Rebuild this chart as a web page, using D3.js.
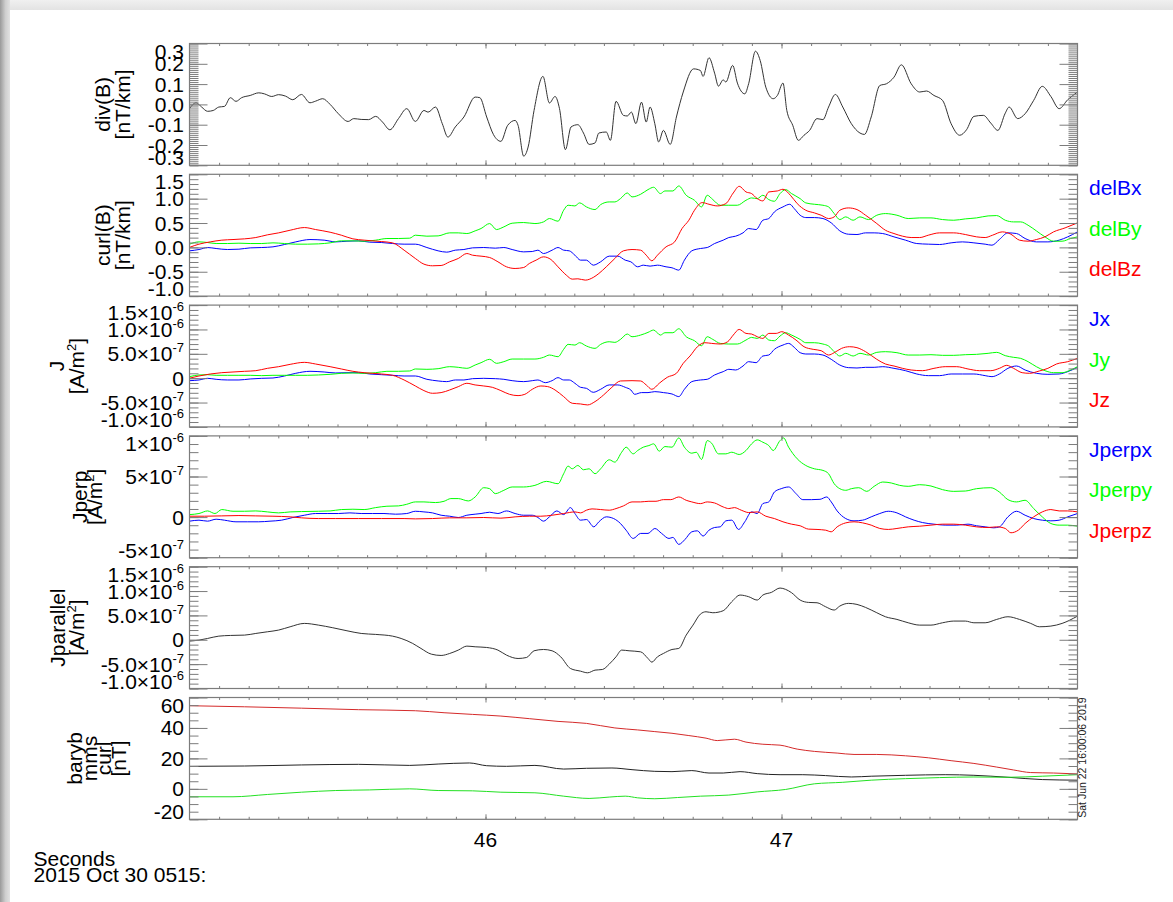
<!DOCTYPE html>
<html>
<head>
<meta charset="utf-8">
<script src="https://cdn.jsdelivr.net/npm/d3@7"></script>
<style>
html, body { margin:0; padding:0; width:1173px; height:902px; overflow:hidden; background:#ececec; }
#edgeL { position:absolute; left:0; top:0; width:10px; height:902px; background:linear-gradient(to right,#9a9a9a,#cfcfcf 55%,#e2e2e2); }
#edgeT { position:absolute; left:10px; top:0; width:1163px; height:10px; background:linear-gradient(to bottom,#f0f0f0,#e3e3e3); }
#card { position:absolute; left:10px; top:10px; width:1163px; height:892px; background:#fff; }
svg { position:absolute; left:0; top:0; }
text { font-family:"Liberation Sans", Arial, Helvetica, sans-serif; }
</style>
</head>
<body>
<div id="edgeL"></div><div id="edgeT"></div><div id="card"></div>
<script>
// ---- time series: [seconds after 05:15, value] ----
const divB = [[45.000,-0.021],[45.022,0.008],[45.041,-0.013],[45.061,-0.034],[45.080,-0.030],[45.099,-0.013],[45.118,-0.010],[45.138,0.033],[45.157,0.015],[45.176,0.033],[45.205,0.044],[45.234,0.057],[45.253,0.052],[45.278,0.039],[45.301,0.048],[45.324,0.041],[45.349,0.023],[45.378,0.049],[45.407,0.008],[45.426,0.016],[45.450,0.028],[45.475,0.000],[45.503,-0.046],[45.536,-0.084],[45.555,-0.070],[45.580,-0.074],[45.605,-0.075],[45.629,-0.059],[45.652,-0.087],[45.677,-0.125],[45.706,-0.070],[45.734,-0.021],[45.763,-0.084],[45.792,-0.030],[45.806,-0.038],[45.831,-0.013],[45.854,-0.095],[45.873,-0.161],[45.898,-0.111],[45.927,-0.062],[45.965,0.036],[45.981,0.033],[46.004,-0.062],[46.027,-0.149],[46.052,-0.182],[46.075,-0.103],[46.100,-0.079],[46.110,-0.103],[46.129,-0.255],[46.144,-0.210],[46.164,-0.030],[46.194,0.138],[46.216,0.007],[46.235,0.039],[46.250,-0.021],[46.270,-0.223],[46.289,-0.111],[46.312,-0.100],[46.331,-0.141],[46.350,-0.197],[46.370,-0.190],[46.383,-0.141],[46.408,-0.136],[46.422,-0.177],[46.441,0.015],[46.466,-0.054],[46.479,-0.057],[46.493,-0.038],[46.508,-0.095],[46.527,0.011],[46.543,-0.087],[46.556,-0.013],[46.572,-0.095],[46.585,-0.185],[46.601,-0.128],[46.624,-0.197],[46.645,-0.062],[46.668,0.061],[46.703,0.175],[46.726,0.167],[46.735,0.138],[46.755,0.230],[46.774,0.154],[46.787,0.090],[46.803,0.121],[46.812,0.110],[46.835,0.192],[46.851,0.105],[46.876,0.052],[46.889,0.102],[46.912,0.262],[46.928,0.216],[46.947,0.085],[46.972,0.028],[46.986,0.044],[47.005,0.105],[47.018,-0.030],[47.038,-0.103],[47.057,-0.177],[47.076,-0.152],[47.095,-0.128],[47.120,-0.070],[47.140,-0.075],[47.159,-0.013],[47.182,0.049],[47.207,-0.013],[47.236,-0.095],[47.265,-0.141],[47.280,-0.148],[47.303,-0.062],[47.332,0.093],[47.355,0.102],[47.380,0.134],[47.405,0.195],[47.438,0.102],[47.467,0.061],[47.490,0.066],[47.515,0.044],[47.544,0.020],[47.573,-0.095],[47.602,-0.152],[47.625,-0.125],[47.650,-0.059],[47.682,-0.054],[47.707,-0.092],[47.731,-0.128],[47.756,-0.043],[47.769,-0.013],[47.798,-0.070],[47.823,-0.046],[47.852,0.020],[47.881,0.089],[47.910,0.039],[47.938,-0.021],[47.967,0.023],[48.000,0.061]];

const delBx = [[45.000,-0.071],[45.032,-0.044],[45.061,-0.003],[45.090,-0.023],[45.128,-0.044],[45.167,-0.037],[45.205,-0.010],[45.244,-0.003],[45.282,0.011],[45.321,0.059],[45.359,0.113],[45.407,0.161],[45.455,0.148],[45.494,0.113],[45.532,0.127],[45.571,0.134],[45.609,0.107],[45.648,0.100],[45.686,0.079],[45.725,0.066],[45.763,0.066],[45.802,-0.003],[45.840,-0.071],[45.869,-0.098],[45.898,-0.057],[45.927,-0.044],[45.956,-0.010],[45.994,-0.003],[46.033,-0.016],[46.062,-0.003],[46.090,-0.044],[46.129,-0.092],[46.158,-0.085],[46.177,-0.057],[46.196,-0.126],[46.225,-0.057],[46.245,-0.003],[46.264,-0.057],[46.283,-0.071],[46.302,-0.160],[46.321,-0.262],[46.341,-0.262],[46.364,-0.365],[46.389,-0.296],[46.418,-0.180],[46.447,-0.180],[46.472,-0.262],[46.491,-0.296],[46.514,-0.399],[46.533,-0.365],[46.556,-0.385],[46.581,-0.365],[46.610,-0.399],[46.630,-0.419],[46.653,-0.467],[46.672,-0.262],[46.697,-0.071],[46.726,-0.023],[46.749,-0.003],[46.774,0.079],[46.803,0.148],[46.822,0.202],[46.845,0.230],[46.870,0.298],[46.889,0.387],[46.914,0.366],[46.937,0.557],[46.957,0.592],[46.976,0.728],[47.005,0.831],[47.028,0.885],[47.043,0.796],[47.063,0.660],[47.082,0.612],[47.111,0.612],[47.140,0.592],[47.168,0.503],[47.197,0.339],[47.226,0.270],[47.255,0.264],[47.284,0.298],[47.313,0.298],[47.342,0.284],[47.380,0.216],[47.419,0.148],[47.457,0.079],[47.496,0.066],[47.534,0.059],[47.573,0.093],[47.611,0.113],[47.650,0.093],[47.688,0.066],[47.711,0.045],[47.736,0.161],[47.765,0.298],[47.794,0.284],[47.823,0.182],[47.861,0.113],[47.900,0.113],[47.938,0.148],[47.967,0.216],[48.000,0.318]];

const delBy = [[45.000,0.066],[45.032,0.113],[45.061,0.100],[45.090,0.079],[45.128,0.079],[45.167,0.086],[45.205,0.079],[45.244,0.079],[45.282,0.093],[45.321,0.079],[45.359,0.066],[45.398,0.066],[45.436,0.072],[45.475,0.093],[45.513,0.134],[45.552,0.134],[45.590,0.127],[45.629,0.148],[45.667,0.182],[45.706,0.182],[45.744,0.189],[45.763,0.250],[45.802,0.230],[45.840,0.236],[45.879,0.298],[45.908,0.298],[45.937,0.284],[45.965,0.339],[45.985,0.387],[46.014,0.489],[46.037,0.366],[46.062,0.421],[46.090,0.496],[46.129,0.510],[46.167,0.489],[46.196,0.523],[46.216,0.592],[46.245,0.537],[46.264,0.762],[46.279,0.865],[46.302,0.851],[46.318,0.913],[46.341,0.831],[46.370,0.776],[46.389,0.878],[46.418,0.933],[46.437,0.933],[46.456,1.001],[46.479,1.117],[46.495,1.036],[46.524,1.090],[46.549,1.186],[46.568,1.234],[46.591,1.104],[46.606,1.158],[46.633,1.158],[46.653,1.261],[46.678,1.070],[46.706,0.967],[46.730,0.831],[46.749,1.070],[46.768,0.981],[46.793,0.865],[46.822,0.865],[46.851,0.865],[46.880,0.967],[46.899,1.015],[46.918,1.001],[46.937,1.070],[46.957,0.981],[46.976,0.947],[46.995,1.104],[47.014,1.186],[47.034,1.104],[47.063,1.001],[47.082,0.913],[47.111,0.885],[47.140,0.865],[47.159,0.831],[47.178,0.694],[47.197,0.571],[47.217,0.626],[47.242,0.557],[47.265,0.626],[47.294,0.571],[47.322,0.660],[47.351,0.694],[47.390,0.660],[47.428,0.592],[47.467,0.605],[47.505,0.605],[47.544,0.571],[47.582,0.557],[47.621,0.585],[47.659,0.605],[47.698,0.646],[47.727,0.653],[47.756,0.557],[47.784,0.523],[47.808,0.523],[47.833,0.455],[47.861,0.339],[47.890,0.216],[47.919,0.127],[47.948,0.127],[47.977,0.182],[48.000,0.216]];

const delBz = [[45.000,0.000],[45.032,0.066],[45.070,0.113],[45.109,0.148],[45.147,0.161],[45.186,0.175],[45.224,0.202],[45.263,0.257],[45.301,0.298],[45.340,0.352],[45.388,0.407],[45.426,0.366],[45.475,0.311],[45.513,0.250],[45.552,0.175],[45.590,0.148],[45.648,0.120],[45.686,0.093],[45.725,-0.057],[45.763,-0.228],[45.792,-0.344],[45.821,-0.378],[45.850,-0.372],[45.879,-0.296],[45.908,-0.228],[45.937,-0.126],[45.956,-0.160],[45.985,-0.180],[46.014,-0.208],[46.042,-0.296],[46.071,-0.399],[46.100,-0.433],[46.129,-0.413],[46.148,-0.331],[46.171,-0.262],[46.196,-0.194],[46.221,-0.249],[46.245,-0.399],[46.273,-0.570],[46.293,-0.652],[46.312,-0.645],[46.337,-0.672],[46.364,-0.617],[46.383,-0.536],[46.408,-0.399],[46.437,-0.228],[46.466,-0.071],[46.495,-0.044],[46.524,-0.057],[46.543,-0.160],[46.562,-0.276],[46.581,-0.160],[46.610,0.011],[46.639,0.113],[46.664,0.387],[46.687,0.557],[46.706,0.762],[46.732,0.919],[46.755,0.885],[46.783,0.851],[46.812,0.899],[46.837,1.117],[46.857,1.254],[46.880,1.138],[46.899,1.104],[46.918,1.001],[46.937,0.954],[46.957,1.138],[46.986,1.158],[47.005,1.193],[47.030,1.070],[47.053,0.899],[47.082,0.762],[47.111,0.708],[47.134,0.660],[47.159,0.592],[47.178,0.626],[47.197,0.762],[47.226,0.810],[47.255,0.776],[47.284,0.660],[47.322,0.489],[47.351,0.352],[47.380,0.284],[47.409,0.230],[47.438,0.202],[47.467,0.202],[47.496,0.250],[47.534,0.298],[47.582,0.298],[47.621,0.264],[47.659,0.216],[47.688,0.202],[47.713,0.250],[47.746,0.318],[47.775,0.270],[47.804,0.148],[47.833,0.127],[47.861,0.161],[47.890,0.216],[47.919,0.318],[47.958,0.400],[48.000,0.503]];

const jx = [[45.000,-0.051e-6],[45.032,-0.037e-6],[45.061,-0.003e-6],[45.090,-0.023e-6],[45.128,-0.037e-6],[45.167,-0.037e-6],[45.205,-0.016e-6],[45.244,-0.003e-6],[45.282,0.004e-6],[45.321,0.045e-6],[45.359,0.100e-6],[45.407,0.141e-6],[45.455,0.127e-6],[45.494,0.107e-6],[45.532,0.113e-6],[45.571,0.113e-6],[45.609,0.086e-6],[45.648,0.072e-6],[45.686,0.059e-6],[45.725,0.045e-6],[45.763,0.045e-6],[45.802,-0.023e-6],[45.840,-0.057e-6],[45.869,-0.071e-6],[45.898,-0.037e-6],[45.927,-0.037e-6],[45.956,-0.010e-6],[45.994,-0.003e-6],[46.033,-0.010e-6],[46.062,-0.023e-6],[46.090,-0.051e-6],[46.129,-0.071e-6],[46.158,-0.051e-6],[46.177,-0.037e-6],[46.202,-0.092e-6],[46.225,-0.051e-6],[46.245,0.011e-6],[46.264,-0.037e-6],[46.283,-0.037e-6],[46.302,-0.105e-6],[46.321,-0.187e-6],[46.341,-0.208e-6],[46.364,-0.290e-6],[46.389,-0.228e-6],[46.418,-0.139e-6],[46.447,-0.139e-6],[46.472,-0.187e-6],[46.491,-0.242e-6],[46.504,-0.331e-6],[46.527,-0.296e-6],[46.549,-0.296e-6],[46.572,-0.276e-6],[46.601,-0.296e-6],[46.630,-0.324e-6],[46.653,-0.378e-6],[46.672,-0.228e-6],[46.697,-0.071e-6],[46.726,-0.037e-6],[46.749,-0.023e-6],[46.774,0.066e-6],[46.803,0.134e-6],[46.822,0.182e-6],[46.845,0.168e-6],[46.870,0.250e-6],[46.889,0.339e-6],[46.914,0.318e-6],[46.937,0.455e-6],[46.957,0.475e-6],[46.976,0.592e-6],[47.005,0.680e-6],[47.024,0.714e-6],[47.043,0.633e-6],[47.063,0.523e-6],[47.082,0.496e-6],[47.111,0.496e-6],[47.140,0.475e-6],[47.168,0.387e-6],[47.197,0.270e-6],[47.226,0.216e-6],[47.255,0.209e-6],[47.284,0.223e-6],[47.313,0.223e-6],[47.342,0.236e-6],[47.380,0.202e-6],[47.419,0.154e-6],[47.457,0.086e-6],[47.496,0.052e-6],[47.534,0.052e-6],[47.573,0.086e-6],[47.611,0.086e-6],[47.650,0.086e-6],[47.688,0.052e-6],[47.711,0.031e-6],[47.736,0.086e-6],[47.765,0.202e-6],[47.794,0.250e-6],[47.823,0.168e-6],[47.861,0.100e-6],[47.900,0.079e-6],[47.938,0.086e-6],[47.967,0.134e-6],[48.000,0.223e-6]];

const jy = [[45.000,0.031e-6],[45.032,0.066e-6],[45.061,0.072e-6],[45.090,0.059e-6],[45.128,0.059e-6],[45.167,0.059e-6],[45.205,0.059e-6],[45.244,0.052e-6],[45.282,0.059e-6],[45.321,0.059e-6],[45.359,0.059e-6],[45.398,0.059e-6],[45.436,0.066e-6],[45.475,0.079e-6],[45.513,0.100e-6],[45.552,0.107e-6],[45.590,0.100e-6],[45.629,0.113e-6],[45.667,0.141e-6],[45.706,0.141e-6],[45.744,0.148e-6],[45.763,0.189e-6],[45.802,0.182e-6],[45.840,0.195e-6],[45.879,0.236e-6],[45.908,0.223e-6],[45.937,0.202e-6],[45.965,0.270e-6],[45.985,0.318e-6],[46.014,0.387e-6],[46.037,0.305e-6],[46.062,0.339e-6],[46.090,0.393e-6],[46.129,0.393e-6],[46.167,0.393e-6],[46.196,0.428e-6],[46.216,0.475e-6],[46.245,0.441e-6],[46.264,0.592e-6],[46.279,0.694e-6],[46.302,0.680e-6],[46.318,0.728e-6],[46.341,0.660e-6],[46.370,0.612e-6],[46.389,0.694e-6],[46.418,0.748e-6],[46.437,0.735e-6],[46.456,0.796e-6],[46.479,0.906e-6],[46.495,0.851e-6],[46.524,0.885e-6],[46.549,0.940e-6],[46.568,0.988e-6],[46.591,0.885e-6],[46.606,0.933e-6],[46.633,0.933e-6],[46.653,1.015e-6],[46.678,0.851e-6],[46.706,0.769e-6],[46.730,0.666e-6],[46.749,0.851e-6],[46.768,0.796e-6],[46.793,0.714e-6],[46.822,0.701e-6],[46.851,0.701e-6],[46.880,0.783e-6],[46.899,0.837e-6],[46.918,0.816e-6],[46.937,0.885e-6],[46.957,0.783e-6],[46.976,0.769e-6],[46.995,0.865e-6],[47.014,0.933e-6],[47.034,0.885e-6],[47.063,0.796e-6],[47.082,0.728e-6],[47.111,0.728e-6],[47.140,0.701e-6],[47.159,0.660e-6],[47.178,0.544e-6],[47.197,0.455e-6],[47.217,0.510e-6],[47.242,0.455e-6],[47.265,0.510e-6],[47.294,0.475e-6],[47.322,0.530e-6],[47.351,0.544e-6],[47.390,0.523e-6],[47.428,0.475e-6],[47.467,0.475e-6],[47.505,0.482e-6],[47.544,0.469e-6],[47.582,0.469e-6],[47.621,0.482e-6],[47.659,0.489e-6],[47.698,0.510e-6],[47.727,0.530e-6],[47.756,0.462e-6],[47.784,0.428e-6],[47.808,0.407e-6],[47.833,0.339e-6],[47.861,0.236e-6],[47.890,0.154e-6],[47.919,0.113e-6],[47.948,0.113e-6],[47.977,0.168e-6],[48.000,0.236e-6]];

const jz = [[45.000,0.000e-6],[45.032,0.045e-6],[45.070,0.086e-6],[45.109,0.113e-6],[45.147,0.127e-6],[45.186,0.141e-6],[45.224,0.154e-6],[45.263,0.202e-6],[45.301,0.236e-6],[45.340,0.284e-6],[45.388,0.325e-6],[45.426,0.291e-6],[45.475,0.236e-6],[45.513,0.189e-6],[45.552,0.141e-6],[45.590,0.113e-6],[45.648,0.086e-6],[45.686,0.059e-6],[45.725,-0.037e-6],[45.763,-0.160e-6],[45.792,-0.255e-6],[45.821,-0.310e-6],[45.850,-0.296e-6],[45.879,-0.242e-6],[45.908,-0.174e-6],[45.937,-0.105e-6],[45.965,-0.139e-6],[45.994,-0.160e-6],[46.023,-0.187e-6],[46.052,-0.255e-6],[46.081,-0.331e-6],[46.110,-0.358e-6],[46.133,-0.331e-6],[46.158,-0.228e-6],[46.187,-0.160e-6],[46.210,-0.173e-6],[46.235,-0.242e-6],[46.264,-0.378e-6],[46.293,-0.515e-6],[46.321,-0.529e-6],[46.345,-0.549e-6],[46.370,-0.481e-6],[46.399,-0.344e-6],[46.427,-0.187e-6],[46.456,-0.057e-6],[46.495,-0.051e-6],[46.524,-0.057e-6],[46.543,-0.139e-6],[46.562,-0.228e-6],[46.587,-0.105e-6],[46.614,0.018e-6],[46.645,0.100e-6],[46.668,0.305e-6],[46.691,0.455e-6],[46.716,0.646e-6],[46.741,0.728e-6],[46.764,0.714e-6],[46.793,0.701e-6],[46.818,0.748e-6],[46.837,0.885e-6],[46.857,1.001e-6],[46.880,0.919e-6],[46.899,0.906e-6],[46.918,0.851e-6],[46.937,0.816e-6],[46.957,0.919e-6],[46.982,0.919e-6],[47.001,0.954e-6],[47.024,0.885e-6],[47.049,0.783e-6],[47.076,0.646e-6],[47.107,0.592e-6],[47.134,0.564e-6],[47.159,0.475e-6],[47.178,0.523e-6],[47.203,0.612e-6],[47.230,0.646e-6],[47.255,0.626e-6],[47.284,0.544e-6],[47.322,0.387e-6],[47.351,0.291e-6],[47.380,0.250e-6],[47.409,0.202e-6],[47.438,0.168e-6],[47.476,0.154e-6],[47.515,0.202e-6],[47.553,0.236e-6],[47.592,0.236e-6],[47.630,0.189e-6],[47.669,0.154e-6],[47.707,0.154e-6],[47.736,0.202e-6],[47.761,0.264e-6],[47.784,0.202e-6],[47.813,0.113e-6],[47.838,0.100e-6],[47.871,0.148e-6],[47.900,0.202e-6],[47.929,0.291e-6],[47.967,0.339e-6],[48.000,0.407e-6]];

const jperpx = [[45.000,-0.050e-6],[45.032,-0.038e-6],[45.061,-0.050e-6],[45.090,-0.026e-6],[45.118,-0.038e-6],[45.157,-0.058e-6],[45.195,-0.058e-6],[45.234,-0.058e-6],[45.272,-0.050e-6],[45.311,-0.038e-6],[45.349,-0.005e-6],[45.388,0.023e-6],[45.426,0.044e-6],[45.465,0.044e-6],[45.503,0.044e-6],[45.542,0.052e-6],[45.580,0.044e-6],[45.619,0.044e-6],[45.657,0.044e-6],[45.696,0.036e-6],[45.734,0.044e-6],[45.763,0.072e-6],[45.792,0.064e-6],[45.821,0.052e-6],[45.850,0.023e-6],[45.879,0.011e-6],[45.908,-0.005e-6],[45.937,0.023e-6],[45.965,0.036e-6],[45.985,0.044e-6],[46.014,0.060e-6],[46.042,0.044e-6],[46.071,0.076e-6],[46.100,0.044e-6],[46.129,0.023e-6],[46.158,0.023e-6],[46.177,-0.005e-6],[46.196,-0.050e-6],[46.216,0.003e-6],[46.241,0.076e-6],[46.264,0.031e-6],[46.287,0.117e-6],[46.302,0.044e-6],[46.321,-0.038e-6],[46.341,-0.030e-6],[46.366,-0.120e-6],[46.383,-0.058e-6],[46.408,0.003e-6],[46.433,-0.018e-6],[46.456,-0.079e-6],[46.475,-0.161e-6],[46.499,-0.263e-6],[46.524,-0.201e-6],[46.549,-0.201e-6],[46.572,-0.140e-6],[46.595,-0.201e-6],[46.620,-0.263e-6],[46.633,-0.250e-6],[46.653,-0.336e-6],[46.674,-0.275e-6],[46.697,-0.181e-6],[46.716,-0.169e-6],[46.735,-0.234e-6],[46.755,-0.161e-6],[46.774,-0.128e-6],[46.793,-0.120e-6],[46.812,-0.046e-6],[46.832,-0.038e-6],[46.855,-0.152e-6],[46.876,-0.058e-6],[46.899,0.064e-6],[46.918,0.044e-6],[46.937,0.166e-6],[46.957,0.187e-6],[46.976,0.309e-6],[46.999,0.350e-6],[47.024,0.371e-6],[47.049,0.289e-6],[47.072,0.215e-6],[47.101,0.215e-6],[47.130,0.219e-6],[47.153,0.248e-6],[47.168,0.187e-6],[47.188,0.076e-6],[47.217,-0.018e-6],[47.245,-0.046e-6],[47.274,-0.038e-6],[47.303,0.003e-6],[47.332,0.044e-6],[47.361,0.072e-6],[47.390,0.052e-6],[47.419,0.003e-6],[47.448,-0.038e-6],[47.476,-0.067e-6],[47.515,-0.087e-6],[47.553,-0.099e-6],[47.592,-0.099e-6],[47.630,-0.087e-6],[47.659,-0.107e-6],[47.688,-0.120e-6],[47.717,-0.132e-6],[47.736,-0.120e-6],[47.765,0.003e-6],[47.794,0.072e-6],[47.823,0.023e-6],[47.852,-0.018e-6],[47.881,-0.038e-6],[47.910,-0.046e-6],[47.938,-0.038e-6],[47.967,0.003e-6],[48.000,0.044e-6]];

const jperpy = [[45.000,0.031e-6],[45.032,0.044e-6],[45.061,0.076e-6],[45.086,0.044e-6],[45.109,0.093e-6],[45.147,0.072e-6],[45.186,0.072e-6],[45.224,0.076e-6],[45.263,0.064e-6],[45.301,0.052e-6],[45.340,0.064e-6],[45.378,0.068e-6],[45.436,0.072e-6],[45.475,0.076e-6],[45.513,0.093e-6],[45.552,0.097e-6],[45.590,0.093e-6],[45.629,0.117e-6],[45.667,0.134e-6],[45.706,0.138e-6],[45.734,0.158e-6],[45.763,0.187e-6],[45.792,0.187e-6],[45.831,0.179e-6],[45.860,0.195e-6],[45.883,0.228e-6],[45.908,0.228e-6],[45.942,0.199e-6],[45.965,0.248e-6],[45.994,0.362e-6],[46.014,0.350e-6],[46.033,0.289e-6],[46.062,0.330e-6],[46.090,0.371e-6],[46.129,0.371e-6],[46.167,0.391e-6],[46.206,0.440e-6],[46.245,0.411e-6],[46.264,0.534e-6],[46.279,0.628e-6],[46.293,0.595e-6],[46.312,0.636e-6],[46.331,0.583e-6],[46.350,0.595e-6],[46.370,0.534e-6],[46.389,0.595e-6],[46.418,0.706e-6],[46.437,0.677e-6],[46.460,0.799e-6],[46.475,0.861e-6],[46.499,0.779e-6],[46.514,0.820e-6],[46.533,0.861e-6],[46.552,0.881e-6],[46.568,0.902e-6],[46.587,0.812e-6],[46.606,0.869e-6],[46.630,0.861e-6],[46.653,0.975e-6],[46.672,0.861e-6],[46.697,0.787e-6],[46.712,0.799e-6],[46.730,0.710e-6],[46.749,0.942e-6],[46.764,0.910e-6],[46.787,0.779e-6],[46.812,0.779e-6],[46.832,0.799e-6],[46.857,0.771e-6],[46.880,0.820e-6],[46.899,0.902e-6],[46.918,0.951e-6],[46.937,0.922e-6],[46.957,0.881e-6],[46.972,0.820e-6],[46.995,0.942e-6],[47.007,0.975e-6],[47.024,0.861e-6],[47.053,0.718e-6],[47.082,0.636e-6],[47.111,0.595e-6],[47.140,0.575e-6],[47.159,0.534e-6],[47.178,0.411e-6],[47.197,0.350e-6],[47.217,0.330e-6],[47.236,0.350e-6],[47.261,0.362e-6],[47.288,0.317e-6],[47.313,0.379e-6],[47.342,0.432e-6],[47.371,0.420e-6],[47.399,0.391e-6],[47.428,0.379e-6],[47.467,0.399e-6],[47.505,0.383e-6],[47.544,0.338e-6],[47.582,0.317e-6],[47.621,0.321e-6],[47.659,0.350e-6],[47.707,0.362e-6],[47.736,0.309e-6],[47.765,0.215e-6],[47.794,0.187e-6],[47.823,0.207e-6],[47.852,0.105e-6],[47.881,0.003e-6],[47.910,-0.079e-6],[47.938,-0.099e-6],[47.967,-0.099e-6],[48.000,-0.112e-6]];

const jperpz = [[45.000,0.011e-6],[45.051,0.011e-6],[45.109,0.015e-6],[45.167,0.019e-6],[45.224,0.015e-6],[45.282,0.011e-6],[45.340,0.003e-6],[45.378,-0.009e-6],[45.436,-0.018e-6],[45.494,-0.018e-6],[45.571,-0.018e-6],[45.648,-0.018e-6],[45.725,-0.018e-6],[45.763,-0.022e-6],[45.821,-0.018e-6],[45.879,-0.009e-6],[45.937,-0.009e-6],[45.994,-0.005e-6],[46.052,-0.013e-6],[46.100,0.003e-6],[46.148,0.011e-6],[46.187,0.011e-6],[46.225,0.023e-6],[46.264,0.044e-6],[46.302,0.064e-6],[46.321,0.052e-6],[46.341,0.085e-6],[46.360,0.101e-6],[46.389,0.093e-6],[46.418,0.085e-6],[46.441,0.105e-6],[46.466,0.138e-6],[46.495,0.187e-6],[46.524,0.187e-6],[46.552,0.195e-6],[46.576,0.195e-6],[46.601,0.215e-6],[46.626,0.215e-6],[46.653,0.248e-6],[46.678,0.207e-6],[46.697,0.187e-6],[46.726,0.166e-6],[46.749,0.187e-6],[46.774,0.174e-6],[46.803,0.125e-6],[46.822,0.105e-6],[46.841,0.117e-6],[46.864,0.085e-6],[46.889,0.056e-6],[46.918,0.064e-6],[46.947,0.011e-6],[46.976,-0.018e-6],[47.005,-0.058e-6],[47.034,-0.087e-6],[47.063,-0.107e-6],[47.091,-0.148e-6],[47.120,-0.152e-6],[47.149,-0.161e-6],[47.168,-0.181e-6],[47.188,-0.120e-6],[47.217,-0.071e-6],[47.245,-0.058e-6],[47.274,-0.071e-6],[47.303,-0.099e-6],[47.332,-0.140e-6],[47.361,-0.152e-6],[47.390,-0.140e-6],[47.428,-0.120e-6],[47.467,-0.112e-6],[47.505,-0.099e-6],[47.544,-0.087e-6],[47.582,-0.087e-6],[47.621,-0.099e-6],[47.659,-0.120e-6],[47.698,-0.128e-6],[47.727,-0.120e-6],[47.756,-0.140e-6],[47.775,-0.193e-6],[47.800,-0.161e-6],[47.823,-0.079e-6],[47.852,0.003e-6],[47.881,0.064e-6],[47.910,0.093e-6],[47.938,0.076e-6],[47.967,0.076e-6],[48.000,0.064e-6]];

const jpar = [[45.000,-0.027e-6],[45.032,-0.007e-6],[45.061,0.027e-6],[45.099,0.075e-6],[45.138,0.089e-6],[45.186,0.096e-6],[45.224,0.130e-6],[45.263,0.164e-6],[45.301,0.199e-6],[45.340,0.267e-6],[45.388,0.336e-6],[45.436,0.301e-6],[45.484,0.247e-6],[45.532,0.185e-6],[45.580,0.130e-6],[45.629,0.110e-6],[45.686,0.075e-6],[45.715,0.027e-6],[45.754,-0.075e-6],[45.782,-0.178e-6],[45.817,-0.295e-6],[45.850,-0.322e-6],[45.879,-0.281e-6],[45.908,-0.212e-6],[45.937,-0.130e-6],[45.965,-0.144e-6],[46.004,-0.158e-6],[46.042,-0.212e-6],[46.071,-0.315e-6],[46.110,-0.384e-6],[46.139,-0.363e-6],[46.164,-0.226e-6],[46.196,-0.199e-6],[46.225,-0.226e-6],[46.254,-0.349e-6],[46.287,-0.589e-6],[46.321,-0.644e-6],[46.345,-0.678e-6],[46.370,-0.623e-6],[46.395,-0.610e-6],[46.418,-0.500e-6],[46.441,-0.349e-6],[46.460,-0.212e-6],[46.485,-0.226e-6],[46.524,-0.247e-6],[46.549,-0.384e-6],[46.562,-0.459e-6],[46.581,-0.349e-6],[46.601,-0.281e-6],[46.630,-0.199e-6],[46.653,-0.178e-6],[46.678,0.096e-6],[46.701,0.301e-6],[46.726,0.527e-6],[46.745,0.575e-6],[46.768,0.555e-6],[46.803,0.596e-6],[46.832,0.781e-6],[46.860,0.918e-6],[46.889,0.884e-6],[46.918,0.815e-6],[46.937,0.918e-6],[46.966,0.973e-6],[46.995,1.062e-6],[47.014,1.034e-6],[47.034,0.966e-6],[47.063,0.815e-6],[47.091,0.767e-6],[47.120,0.760e-6],[47.149,0.678e-6],[47.178,0.610e-6],[47.197,0.692e-6],[47.226,0.747e-6],[47.255,0.726e-6],[47.284,0.664e-6],[47.322,0.555e-6],[47.351,0.473e-6],[47.390,0.418e-6],[47.428,0.349e-6],[47.467,0.301e-6],[47.505,0.301e-6],[47.544,0.349e-6],[47.582,0.384e-6],[47.621,0.384e-6],[47.650,0.349e-6],[47.688,0.349e-6],[47.727,0.418e-6],[47.765,0.473e-6],[47.804,0.418e-6],[47.842,0.336e-6],[47.871,0.267e-6],[47.910,0.281e-6],[47.948,0.336e-6],[48.000,0.486e-6]];

const curlRed = [[45.000,54.6],[45.186,53.9],[45.378,53.0],[45.571,52.0],[45.763,51.3],[45.860,50.0],[45.956,48.9],[46.052,47.8],[46.148,46.1],[46.245,44.3],[46.341,43.0],[46.437,40.0],[46.514,38.7],[46.572,37.6],[46.630,36.5],[46.687,35.0],[46.745,33.3],[46.783,31.7],[46.841,32.6],[46.880,30.7],[46.937,29.3],[46.995,28.7],[47.053,26.1],[47.111,24.6],[47.188,23.5],[47.245,22.6],[47.322,22.6],[47.419,21.7],[47.496,20.4],[47.573,18.5],[47.650,16.7],[47.727,14.3],[47.784,12.4],[47.842,10.7],[47.919,10.4],[48.000,9.8]];
const curlBlack = [[45.000,14.8],[45.186,15.0],[45.378,15.7],[45.571,16.1],[45.744,15.4],[45.840,16.3],[45.946,17.0],[46.004,15.2],[46.071,14.8],[46.167,15.4],[46.264,13.0],[46.341,13.5],[46.427,13.7],[46.495,12.6],[46.572,11.5],[46.630,11.3],[46.697,12.0],[46.755,10.4],[46.803,10.4],[46.860,11.3],[46.918,10.0],[46.995,9.3],[47.072,9.3],[47.149,8.7],[47.236,7.8],[47.303,8.3],[47.419,8.9],[47.553,9.3],[47.650,8.9],[47.765,7.6],[47.881,6.1],[48.000,5.7]];
const curlGreen = [[45.000,-5.2],[45.147,-5.2],[45.263,-3.7],[45.378,-2.2],[45.494,-1.1],[45.609,-0.7],[45.744,0.0],[45.840,-1.1],[45.956,-1.3],[46.052,-2.2],[46.167,-2.6],[46.264,-4.8],[46.350,-6.3],[46.418,-5.4],[46.472,-4.8],[46.514,-5.9],[46.572,-6.5],[46.649,-5.7],[46.726,-4.8],[46.822,-4.1],[46.918,-2.0],[47.014,-0.4],[47.111,3.3],[47.207,4.3],[47.303,5.7],[47.419,6.7],[47.534,7.4],[47.650,7.8],[47.765,7.6],[47.881,8.3],[48.000,9.3]];

// ---- axis tick labels ----
const divTickVals = [-0.3,-0.2,-0.1,0,0.1,0.2,0.3];
const divTickText = ["-0.3","-0.2","-0.1","0.0","0.1","0.2","0.3"];
const curlTickVals = [-1.0,-0.5,0,0.5,1.0,1.5];
const curlTickText = ["-1.0","-0.5","0.0","0.5","1.0","1.5"];
const jTickVals = [-1.0e-6,-0.5e-6,0,0.5e-6,1.0e-6,1.5e-6];
const jTickText = [["-1.0×10","-6"],["-5.0×10","-7"],["0",""],["5.0×10","-7"],["1.0×10","-6"],["1.5×10","-6"]];
const jperpTickVals = [-5e-7,0,5e-7,1e-6];
const jperpTickText = [["-5×10","-7"],["0",""],["5×10","-7"],["1×10","-6"]];
const nTTickVals = [-20,0,20,40,60];
const nTTickText = ["-20","0","20","40","60"];
const timeTickVals = [46,47];
const timeTickText = ["46","47"];

const curlNames = ["delBx","delBy","delBz"];
const jNames = ["Jx","Jy","Jz"];
const jperpNames = ["Jperpx","Jperpy","Jperpz"];
const rgb = ["#0000ff","#00ff00","#ff0000"];

// ---- layout ----
const W = 1173, H = 902;
const X0 = 189.5, X1 = 1077.5;
const TOP0 = 43.5, PH = 121.8, PITCH = 130.8;
const FONT = 21;

const x = d3.scaleLinear().domain([45, 48]).range([X0, X1]);

const panels = [
  { title:["div(B)","[nT/km]"], titleX:[110,130], domain:[-0.3,0.3],
    major:divTickVals, minor:d3.range(-30,31).map(i=>i/100),
    labels:divTickVals.map((v,i)=>({v, m:divTickText[i], e:""})),
    series:[{data:divB, color:"#333"}], legend:[] },
  { title:["curl(B)","[nT/km]"], titleX:[110,130], domain:[-1.0,1.5],
    major:curlTickVals, minor:d3.range(-10,16).map(i=>i/10),
    labels:curlTickVals.map((v,i)=>({v, m:curlTickText[i], e:""})),
    series:[{data:delBx,color:rgb[0]},{data:delBy,color:rgb[1]},{data:delBz,color:rgb[2]}],
    legend:curlNames },
  { title:["J","[A/m^2]"], titleX:[64,84], domain:[-1.0e-6,1.5e-6],
    major:jTickVals, minor:d3.range(-10,16).map(i=>i*1e-7),
    labels:jTickVals.map((v,i)=>({v, m:jTickText[i][0], e:jTickText[i][1]})),
    series:[{data:jx,color:rgb[0]},{data:jy,color:rgb[1]},{data:jz,color:rgb[2]}],
    legend:jNames },
  { title:["Jperp","[A/m^2]"], titleX:[87,102], domain:[-5e-7,1e-6],
    major:jperpTickVals, minor:d3.range(-5,11).map(i=>i*1e-7),
    labels:jperpTickVals.map((v,i)=>({v, m:jperpTickText[i][0], e:jperpTickText[i][1]})),
    series:[{data:jperpx,color:rgb[0]},{data:jperpy,color:rgb[1]},{data:jperpz,color:rgb[2]}],
    legend:jperpNames },
  { title:["Jparallel","[A/m^2]"], titleX:[65,84], domain:[-1.0e-6,1.5e-6],
    major:jTickVals, minor:d3.range(-10,16).map(i=>i*1e-7),
    labels:jTickVals.map((v,i)=>({v, m:jTickText[i][0], e:jTickText[i][1]})),
    series:[{data:jpar,color:"#333"}], legend:[] },
  { title:["baryb","mms","curl","[nT]"], titleX:[82,96.5,111,126], domain:[-20,60],
    major:nTTickVals, minor:d3.range(-20,61,5),
    labels:nTTickVals.map((v,i)=>({v, m:nTTickText[i], e:""})),
    series:[{data:curlRed,color:"#d42a2a"},{data:curlBlack,color:"#222"},{data:curlGreen,color:"#22e022"}],
    legend:[] }
];

const svg = d3.select("body").append("svg").attr("width", W).attr("height", H);
const defs = svg.append("defs");
const AXC = "#7c7c7c";

function styleAxis(sel) {
  sel.select(".domain").remove();
  sel.selectAll("line").attr("stroke", AXC).attr("stroke-width", 1);
}

// text with optional superscript segment (written as "base^s")
function richText(sel, str) {
  const k = str.indexOf("^");
  if (k < 0) { sel.text(str); return; }
  sel.append("tspan").text(str.slice(0, k));
  sel.append("tspan").attr("dy", -8).attr("font-size", 13).text(str[k+1]);
  sel.append("tspan").attr("dy", 8).attr("font-size", FONT).text(str.slice(k+2));
}

panels.forEach((p, i) => {
  const top = TOP0 + i * PITCH, bot = top + PH;
  const y = d3.scaleLinear().domain(p.domain).range([bot, top]);
  const g = svg.append("g");

  defs.append("clipPath").attr("id", "clip" + i)
    .append("rect").attr("x", X0).attr("y", top).attr("width", X1 - X0).attr("height", PH);

  // data lines
  const line = d3.line().x(d => x(d[0])).y(d => y(d[1])).curve(d3.curveMonotoneX);
  p.series.forEach(s => {
    g.append("path").attr("d", line(s.data)).attr("fill", "none")
      .attr("stroke", s.color).attr("stroke-width", 1)
      .attr("clip-path", `url(#clip${i})`);
  });

  // y ticks, mirrored on both sides, pointing inward
  [[d3.axisLeft, X0], [d3.axisRight, X1]].forEach(([ax, xp]) => {
    g.append("g").attr("transform", `translate(${xp},0)`)
      .call(ax(y).tickValues(p.minor).tickSize(-9).tickFormat("")).call(styleAxis);
    g.append("g").attr("transform", `translate(${xp},0)`)
      .call(ax(y).tickValues(p.major).tickSize(-18).tickFormat("")).call(styleAxis);
  });

  // time ticks on top and bottom edges
  const minorT = d3.range(451, 480).map(v => v / 10);
  [[d3.axisBottom, bot], [d3.axisTop, top]].forEach(([ax, yp]) => {
    g.append("g").attr("transform", `translate(0,${yp})`)
      .call(ax(x).tickValues(minorT).tickSize(-2.5).tickFormat("")).call(styleAxis);
    g.append("g").attr("transform", `translate(0,${yp})`)
      .call(ax(x).tickValues(timeTickVals).tickSize(-5).tickFormat("")).call(styleAxis);
  });

  // frame
  g.append("rect").attr("x", X0).attr("y", top).attr("width", X1 - X0).attr("height", PH)
    .attr("fill", "none").attr("stroke", AXC).attr("stroke-width", 1.2);

  // y tick labels
  const [d0, d1] = p.domain;
  p.labels.forEach(l => {
    let base = y(l.v) + 7.5;
    if (Math.abs(l.v - d1) < 1e-12) base = top + 15;
    if (Math.abs(l.v - d0) < 1e-12) base = bot;
    const t = g.append("text").attr("x", 184).attr("y", base)
      .attr("text-anchor", "end").attr("font-size", FONT).attr("fill", "#000");
    t.append("tspan").text(l.m);
    if (l.e) t.append("tspan").attr("dy", -9).attr("font-size", 13).text(l.e);
  });

  // rotated axis title
  const cy = (top + bot) / 2;
  p.title.forEach((s, k) => {
    const t = g.append("text")
      .attr("transform", `translate(${p.titleX[k]},${cy}) rotate(-90)`)
      .attr("text-anchor", "middle").attr("font-size", FONT).attr("fill", "#000");
    richText(t, s);
  });

  // series names at right
  const offs = [21, 61.5, 102];
  p.legend.forEach((name, k) => {
    g.append("text").attr("x", 1089).attr("y", top + offs[k])
      .attr("font-size", FONT).attr("fill", rgb[k]).text(name);
  });
});

// time axis labels
const lastBot = TOP0 + 5 * PITCH + PH;
timeTickVals.forEach((v, i) => {
  svg.append("text").attr("x", x(v)).attr("y", 846.5).attr("text-anchor", "middle")
    .attr("font-size", FONT).attr("fill", "#000").text(timeTickText[i]);
});
svg.append("text").attr("x", 33.5).attr("y", 865.5).attr("font-size", FONT).attr("fill", "#000").text("Seconds");
svg.append("text").attr("x", 33.5).attr("y", 882).attr("font-size", FONT).attr("fill", "#000").text("2015 Oct 30 0515:");

// creation stamp along the right edge of the last panel
svg.append("text")
  .attr("transform", `translate(1086,${lastBot - 1.5}) rotate(-90)`)
  .attr("font-size", 10.5).attr("fill", "#222")
  .text("Sat Jun 22 16:00:06 2019");
</script>
</body>
</html>
